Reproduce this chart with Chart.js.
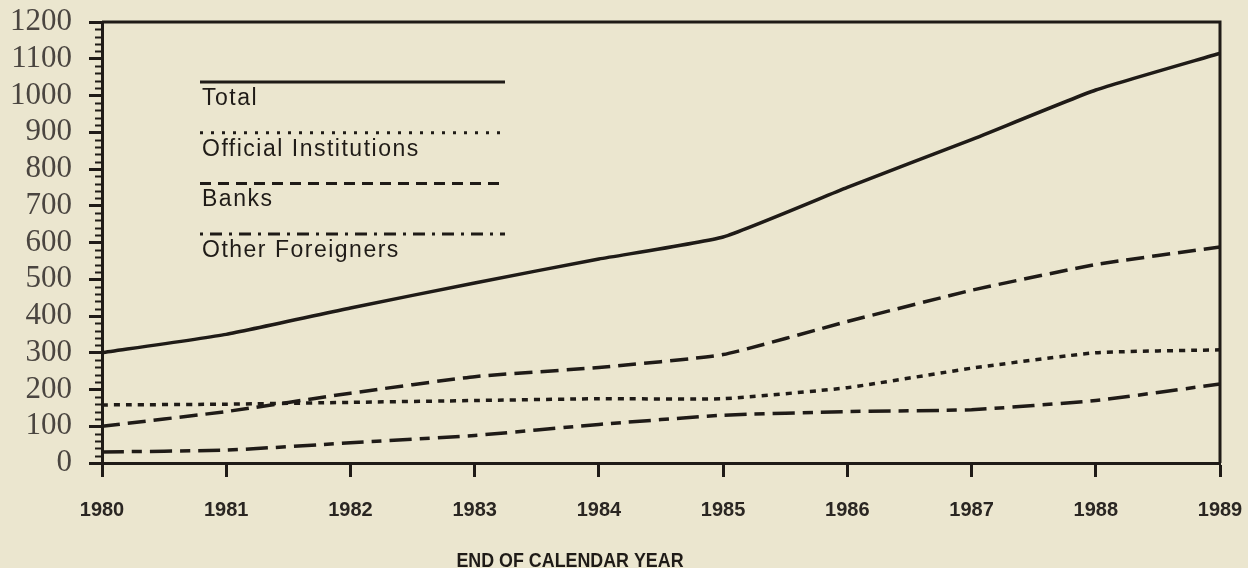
<!DOCTYPE html>
<html>
<head>
<meta charset="utf-8">
<script src="https://cdn.jsdelivr.net/npm/chart.js@4/dist/chart.umd.min.js"></script>
<style>
  html, body { margin: 0; padding: 0; background: #ebe6cf; }
  #wrap { width: 1248px; height: 568px; position: relative; }
</style>
</head>
<body>
<div id="wrap"><canvas id="holdingsChart"></canvas></div>
<script>
// du lieu doc tu hinh
const years = ['1980', '1981', '1982', '1983', '1984', '1985', '1986', '1987', '1988', '1989'];
const total = [300, 350, 422, 490, 555, 615, 750, 880, 1015, 1115];
const officialInstitutions = [158, 160, 165, 170, 175, 175, 205, 258, 300, 308];
const banks = [100, 140, 190, 235, 260, 295, 385, 470, 540, 588];
const otherForeigners = [30, 35, 55, 75, 105, 130, 140, 145, 170, 215];
const yMax = 1200;
const yStep = 100;
const xTitle = 'END OF CALENDAR YEAR';

const ink = '#1f1b17';
const sans = '"Liberation Sans", Arial, sans-serif';

// legend ve tay: duong ke o tren, chu o duoi
const legendItems = [
    { label: 'Total', dash: [] },
    { label: 'Official Institutions', dash: [3, 8] },
    { label: 'Banks', dash: [11, 7] },
    { label: 'Other Foreigners', dash: [3, 7, 12, 7] }
];

const framePlugin = {
    id: 'frame',
    afterDraw(chart) {
        const { ctx, chartArea: a, scales: { y } } = chart;
        ctx.save();
        ctx.strokeStyle = ink;

        // khung tren + phai
        ctx.lineWidth = 3;
        ctx.beginPath();
        ctx.moveTo(a.left, a.top);
        ctx.lineTo(a.right, a.top);
        ctx.lineTo(a.right, a.bottom);
        ctx.stroke();

        // vach phu truc y
        ctx.lineWidth = 2;
        ctx.beginPath();
        for (let v = 20; v < yMax; v += 20) {
            if (v % yStep === 0) continue;
            const py = Math.round(y.getPixelForValue(v)) + 0.5;
            ctx.moveTo(a.left - 7, py);
            ctx.lineTo(a.left, py);
        }
        ctx.stroke();

        // legend
        const lx0 = 200, lx1 = 505;
        legendItems.forEach((item, i) => {
            const ly = 82 + i * 50.7;
            ctx.lineWidth = 3;
            ctx.setLineDash(item.dash);
            ctx.beginPath();
            ctx.moveTo(lx0, ly);
            ctx.lineTo(lx1, ly);
            ctx.stroke();
            ctx.setLineDash([]);
            ctx.fillStyle = ink;
            ctx.font = '23px ' + sans;
            ctx.letterSpacing = '1.5px';
            ctx.textAlign = 'left';
            ctx.textBaseline = 'alphabetic';
            ctx.fillText(item.label, lx0 + 2, ly + 23);
        });

        // tieu de truc x (chu hep, cao)
        ctx.letterSpacing = '0px';
        ctx.font = 'bold 21px ' + sans;
        ctx.textAlign = 'center';
        ctx.translate(570, 567);
        ctx.scale(0.85, 1);
        ctx.fillText(xTitle, 0, 0);
        ctx.restore();
    }
};

const ctx = document.getElementById('holdingsChart').getContext('2d');

new Chart(ctx, {
    type: 'line',
    data: {
        labels: years,
        datasets: [
            { label: 'Total', data: total, borderDash: [] },
            { label: 'Official Institutions', data: officialInstitutions, borderDash: [6, 6] },
            { label: 'Banks', data: banks, borderDash: [18, 8] },
            { label: 'Other Foreigners', data: otherForeigners, borderDash: [22, 8, 10, 8] }
        ].map(ds => ({
            ...ds,
            borderColor: ink,
            borderWidth: 3.5,
            pointRadius: 0,
            tension: 0.15,
            fill: false
        }))
    },
    options: {
        responsive: true,
        maintainAspectRatio: false,
        animation: false,
        layout: { padding: { left: 10, right: 0, top: 0, bottom: 0 } },
        plugins: {
            legend: { display: false },
            tooltip: { enabled: false }
        },
        scales: {
            x: {
                offset: false,
                afterFit: axis => {
                    axis.height = 105;
                    axis.paddingLeft = 0;
                    axis.paddingRight = 28;
                },
                grid: { drawOnChartArea: false, tickLength: 14, tickWidth: 3, tickColor: ink, offset: false },
                border: { color: ink, width: 3 },
                ticks: {
                    color: '#2a2622',
                    font: { family: sans, size: 20, weight: 'bold' },
                    padding: 21,
                    maxRotation: 0,
                    autoSkip: false
                }
            },
            y: {
                min: 0,
                max: yMax,
                afterFit: axis => {
                    axis.width = 92;
                    axis.paddingTop = 22;
                    axis.paddingBottom = 0;
                },
                grid: { drawOnChartArea: false, tickLength: 13, tickWidth: 3, tickColor: ink },
                border: { color: ink, width: 3 },
                ticks: {
                    stepSize: yStep,
                    autoSkip: false,
                    callback: v => String(v),
                    color: '#4a4540',
                    font: { family: '"Liberation Serif", "Times New Roman", serif', size: 31, lineHeight: 1 },
                    padding: 17
                }
            }
        }
    },
    plugins: [framePlugin]
});
</script>
</body>
</html>
